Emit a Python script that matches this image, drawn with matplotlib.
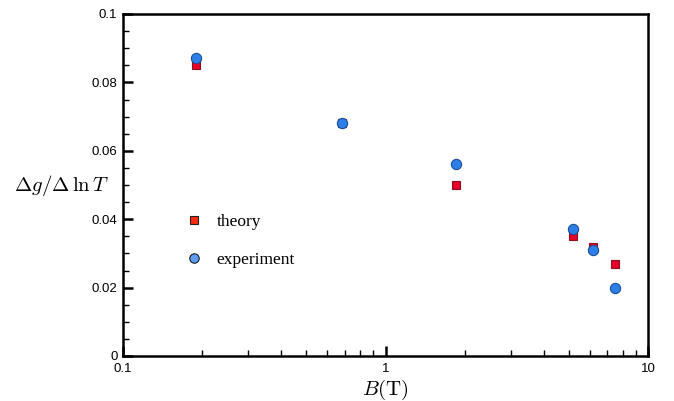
import matplotlib
matplotlib.use("Agg")
import matplotlib.pyplot as plt
from matplotlib.lines import Line2D
from matplotlib.ticker import FixedLocator, NullFormatter, FuncFormatter

plt.rcParams['mathtext.fontset'] = 'cm'

B_field = [0.19, 0.68, 1.85, 5.17, 6.17, 7.46]
theory = [0.085, 0.068, 0.050, 0.035, 0.032, 0.027]
experiment = [0.087, 0.068, 0.056, 0.037, 0.031, 0.020]
series_names = ["theory", "experiment"]
x_ticks = [0.1, 1, 10]
x_tick_labels = ["0.1", "1", "10"]
y_ticks = [0, 0.02, 0.04, 0.06, 0.08, 0.1]
y_tick_labels = ["0", "0.02", "0.04", "0.06", "0.08", "0.1"]

fig = plt.figure(figsize=(6.74, 4.01), dpi=100)
ax = fig.add_axes([123/674, 1 - 356/401, (648-123)/674, (356-14)/401])

ax.plot(B_field, theory, linestyle='none', marker='s', markersize=6.2,
        markerfacecolor='#e8002a', markeredgecolor='#8a1020', markeredgewidth=0.8, zorder=3)
ax.plot(B_field, experiment, linestyle='none', marker='o', markersize=7.4,
        markerfacecolor='#2b7fe6', markeredgecolor='#1f4f9a', markeredgewidth=0.8, zorder=4)

ax.set_xscale('log')
ax.set_xlim(0.1, 10)
ax.set_ylim(0, 0.1)

ax.xaxis.set_major_locator(FixedLocator(x_ticks))
ax.xaxis.set_major_formatter(FuncFormatter(lambda v, p: x_tick_labels[x_ticks.index(min(x_ticks, key=lambda t: abs(t - v)))]))
minor_x = [m * d for d in (0.1, 1) for m in range(2, 10)]
ax.xaxis.set_minor_locator(FixedLocator(minor_x))
ax.xaxis.set_minor_formatter(NullFormatter())

ax.yaxis.set_major_locator(FixedLocator(y_ticks))
ax.set_yticklabels(y_tick_labels)
ax.yaxis.set_minor_locator(FixedLocator([i * 0.005 for i in range(21)]))

for s in ax.spines.values():
    s.set_linewidth(1.8)
    s.set_color('black')

ax.tick_params(which='major', direction='in', length=7, width=1.8, top=False, right=False,
               labelsize=9.5, pad=4)
ax.tick_params(which='minor', direction='in', length=4, width=1.0, top=False, right=False)
for lab in ax.get_xticklabels() + ax.get_yticklabels():
    lab.set_fontfamily('Liberation Sans')
ax.tick_params(axis='x', which='major', pad=5)

ax.set_xlabel(r'$B(\mathrm{T})$', fontsize=15, labelpad=2)
fig.text(62/674, 1 - 185/401, r'$\Delta g/\Delta\,\ln T$', fontsize=15, ha='center', va='center')

handles = [
    Line2D([], [], linestyle='none', marker='s', markersize=6.0,
           markerfacecolor='#ff2a10', markeredgecolor='#202020', markeredgewidth=0.8),
    Line2D([], [], linestyle='none', marker='o', markersize=6.8,
           markerfacecolor='#5c9cf5', markeredgecolor='#202020', markeredgewidth=0.8),
]
leg = ax.legend(handles, series_names, loc='upper left', bbox_to_anchor=(0.105, 0.435),
                frameon=False, prop={'family': 'Liberation Serif', 'size': 12.5},
                handlelength=1.0, handletextpad=0.8, labelspacing=1.25, borderaxespad=0)

fig.savefig('out.png', dpi=100)
